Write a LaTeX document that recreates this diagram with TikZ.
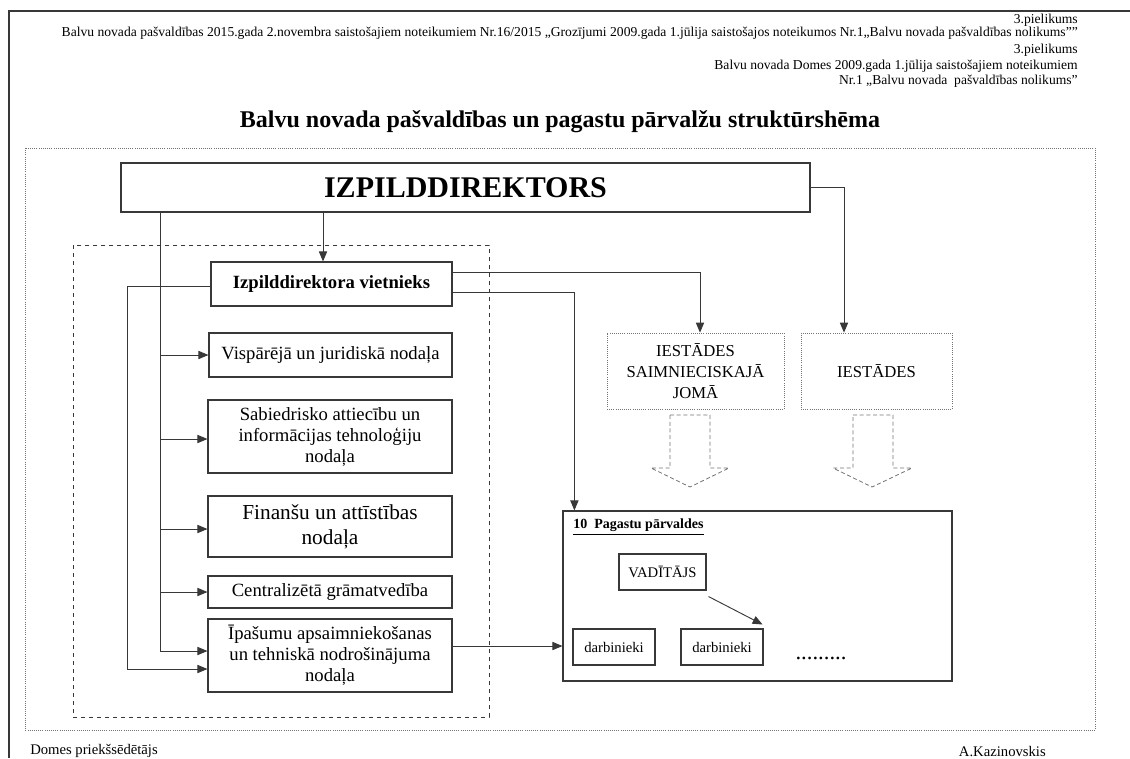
\documentclass[tikz,border=0pt]{standalone}
\usepackage{fontspec}
\setmainfont{Liberation Serif}
\usetikzlibrary{arrows, positioning}
\definecolor{linegray}{gray}{0.22}
\definecolor{dotgray}{gray}{0.45}

\begin{document}
\begin{tikzpicture}[x=0.75pt, y=-0.75pt]
		\tikzstyle{Box} = [rectangle, draw=linegray, line width=0.9pt, align=center, inner sep=1pt, font=\fontsize{14}{15.75}\selectfont]
		\tikzstyle{DotBox} = [rectangle, draw=dotgray, densely dotted, line width=0.6pt, align=center, inner sep=1pt, font=\fontsize{12.5}{16}\selectfont]
		\tikzstyle{SmallBox} = [rectangle, draw=linegray, line width=0.8pt, inner sep=1pt, font=\fontsize{11}{13}\selectfont]
		\tikzstyle{Head} = [anchor=east, inner sep=0pt, font=\fontsize{10.2}{12}\selectfont]
		\tikzstyle{arrow} = [line width=0.7pt, draw=linegray, ->, >=triangle 45]
		\tikzstyle{link} = [line width=0.7pt, draw=linegray]
		
		\useasboundingbox (0,0) rectangle (1130,758);
		\draw [line width=1pt, linegray] (9,758) -- (9,11) -- (1130,11);
		
		% header
		\node (h1) [Head] at (1078,20) {3.pielikums};
		\node (h2) [Head] at (1078,33) {Balvu novada pašvaldības 2015.gada 2.novembra saistošajiem noteikumiem Nr.16/2015 „Grozījumi 2009.gada 1.jūlija saistošajos noteikumos Nr.1„Balvu novada pašvaldības nolikums””};
		\node (h3) [Head] at (1078,50) {3.pielikums};
		\node (h4) [Head] at (1078,66) {Balvu novada Domes 2009.gada 1.jūlija saistošajiem noteikumiem};
		\node (h5) [Head] at (1078,81) {Nr.1 „Balvu novada~ pašvaldības nolikums”};
		
		\node (title) [font=\fontsize{18}{20}\selectfont\bfseries] at (560,122) {Balvu novada pašvaldības un pagastu pārvalžu struktūrshēma};
		
		% frames
		\draw [dotgray, densely dotted, line width=0.6pt] (25,148) rectangle (1095,730);
		\draw [linegray, dashed, line width=0.7pt] (73,245) rectangle (489,717);
		
		% boxes
		\node (izp) [Box, minimum width=516.75pt, minimum height=36.75pt, font=\fontsize{22.5}{24}\selectfont\bfseries] at (465.5,187.5) {IZPILDDIREKTORS};
		\node (viet) [Box, minimum width=180.75pt, minimum height=33pt, font=\fontsize{14}{16}\selectfont\bfseries] at (331.5,284) {Izpilddirektora vietnieks};
		\node (visp) [Box, minimum width=182.25pt, minimum height=33pt] at (330.5,355) {Vispārējā un juridiskā nodaļa};
		\node (sab) [Box, minimum width=183pt, minimum height=54.75pt] at (330,436.5) {Sabiedrisko attiecību un\\informācijas tehnoloģiju\\nodaļa};
		\node (fin) [Box, minimum width=183pt, minimum height=45.75pt, font=\fontsize{16}{18.75}\selectfont] at (330,526.5) {Finanšu un attīstības\\nodaļa};
		\node (cent) [Box, minimum width=183pt, minimum height=24pt] at (330,592) {Centralizētā grāmatvedība};
		\node (ipas) [Box, minimum width=183pt, minimum height=54.75pt] at (330,655.5) {Īpašumu apsaimniekošanas\\un tehniskā nodrošinājuma\\nodaļa};
		
		\node (iss) [DotBox, minimum width=132.75pt, minimum height=57pt] at (695.5,371) {IESTĀDES\\SAIMNIECISKAJĀ\\JOMĀ};
		\node (ies) [DotBox, minimum width=113.25pt, minimum height=57pt] at (876.5,371) {IESTĀDES};
		
		\node (pag) [rectangle, draw=linegray, line width=0.9pt, minimum width=291.75pt, minimum height=127.5pt] at (757.5,596) {};
		\node (pagname) [anchor=west, inner sep=0pt, font=\fontsize{10.5}{12}\selectfont\bfseries] at (573,527) {\underline{10~ Pagastu pārvaldes}};
		\node (vad) [SmallBox, minimum width=65.25pt, minimum height=27pt] at (662.5,572) {VADĪTĀJS};
		\node (darb1) [SmallBox, minimum width=61.5pt, minimum height=27pt] at (614,647) {darbinieki};
		\node (darb2) [SmallBox, minimum width=61.5pt, minimum height=27pt] at (722,647) {darbinieki};
		\node (dots) [font=\fontsize{17}{19}\selectfont] at (821,658) {.........};
		
		% connectors
		\coordinate (bus) at (160,212);
		\coordinate (sabW) at ([shift={(0,2.5)}]sab.west);
		\coordinate (finW) at ([shift={(0,2.5)}]fin.west);
		\coordinate (ipasW) at ([shift={(0,-4.5)}]ipas.west);
		\coordinate (ipasL) at ([shift={(0,13.5)}]ipas.west);
		\coordinate (ipasE) at ([shift={(0,-9.5)}]ipas.east);
		\coordinate (vietN) at ([shift={(-8.5,0)}]viet.north);
		\draw [link] (bus) -- (bus |- ipasW);
		\draw [arrow] (visp.west -| bus) -- (visp.west);
		\draw [arrow] (sabW -| bus) -- (sabW);
		\draw [arrow] (finW -| bus) -- (finW);
		\draw [arrow] (cent.west -| bus) -- (cent.west);
		\draw [arrow] (ipasW -| bus) -- (ipasW);
		\draw [arrow] (vietN |- izp.south) -- (vietN);
		\draw [arrow] ([shift={(0,2)}]viet.west) -- ++(-83,0) |- (ipasL);
		\draw [arrow] (ipasE) -- (ipasE -| pag.west);
		\draw [arrow] ([shift={(0,-12)}]viet.east) -| ([shift={(4.5,0)}]iss.north);
		\draw [arrow] ([shift={(0,8)}]viet.east) -| ([shift={(12,0)}]pag.north west);
		\draw [arrow] (izp.east) -| ([shift={(-32.5,0)}]ies.north);
		\draw [arrow] ([shift={(2,6)}]vad.south east) -- ([shift={(-1,-4)}]darb2.north east);
		
		% block arrows
		\draw [dotgray, densely dashed, line width=0.6pt] (670,415) -- (710,415) -- (710,468) -- (729,468) -- (690,487) -- (651,468) -- (670,468) -- cycle;
		\draw [dotgray, densely dashed, line width=0.6pt] (853,415) -- (893,415) -- (893,468) -- (912,468) -- (872,487) -- (833,468) -- (853,468) -- cycle;
		
		% signatures
		\node (chair) [anchor=west, inner sep=0pt, font=\fontsize{11}{13}\selectfont] at (30,751) {Domes priekšsēdētājs};
		\node (sign) [anchor=east, inner sep=0pt, font=\fontsize{11}{13}\selectfont] at (1046,751) {A.Kazinovskis};
\end{tikzpicture}
\end{document}
